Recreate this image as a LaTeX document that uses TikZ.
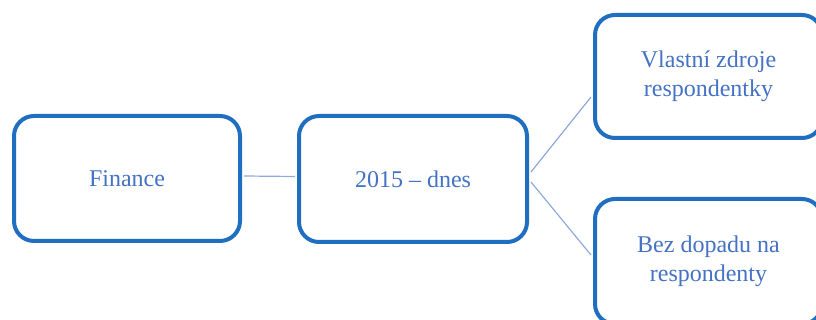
\documentclass[tikz,border=0pt]{standalone}
\usepackage{fontspec}
\setmainfont{Liberation Serif}
\usetikzlibrary{calc}
\definecolor{boxblue}{HTML}{1F6EBF}
\definecolor{textblue}{HTML}{4472C4}
\definecolor{lineblue}{HTML}{8FAADC}
\tikzset{
  box/.style={draw=boxblue, line width=4pt, rounded corners=20pt, fill=white,
    text=textblue, font=\fontsize{24}{29}\selectfont, align=center, inner sep=0pt},
  link/.style={draw=lineblue, line width=1.2pt}
}
\begin{document}
\begin{tikzpicture}[x=1pt,y=-1pt]
\useasboundingbox (0,0) rectangle (816,320);
\clip (0,0) rectangle (816,320);
\node[box, minimum width=226pt, minimum height=125pt] (fin) at (127,178.5) {Finance};
\node[box, minimum width=228pt, minimum height=126pt] (dnes) at (413,179) {2015 – dnes};
\node[box, minimum width=227pt, minimum height=123pt] (top) at (708.5,76.5) {Vlastní zdroje\\respondentky};
\node[box, minimum width=227pt, minimum height=125pt] (bot) at (708.5,261.5) {Bez dopadu na\\respondenty};
\draw[link] ($(fin.east)+(2,-2.5)$) -- ($(dnes.west)+(-2,-2.5)$);
\draw[link] ($(dnes.east)+(2,-7)$) -- ($(top.west)+(-2,20.5)$);
\draw[link] ($(dnes.east)+(2,3)$) -- ($(bot.west)+(-2,-6.5)$);
\end{tikzpicture}
\end{document}
